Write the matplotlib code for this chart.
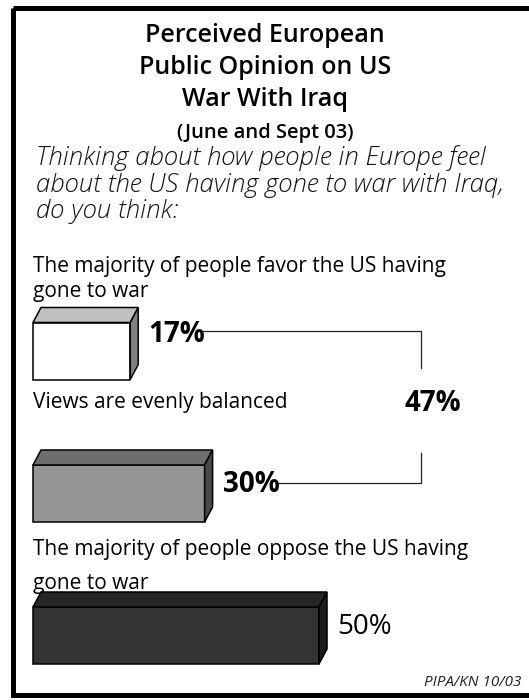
import matplotlib
matplotlib.use("Agg")
import matplotlib.pyplot as plt
from matplotlib.patches import Polygon, Rectangle

plt.rcParams['font.family'] = ['Open Sans', 'DejaVu Sans']

# data
title_lines = ["Perceived European", "Public Opinion on US", "War With Iraq"]
subtitle = "(June and Sept 03)"
question = ["Thinking about how people in Europe feel",
            "about the US having gone to war with Iraq,",
            "do you think:"]
labels = ["The majority of people favor the US having\ngone to war",
          "Views are evenly balanced",
          "The majority of people oppose the US having\ngone to war"]
values = [17, 30, 50]
front_colors = ["#ffffff", "#969696", "#333333"]
top_colors = ["#c0c0c0", "#6e6e6e", "#262626"]
side_colors = ["#808080", "#4a4a4a", "#1c1c1c"]
label_weights = ["bold", "bold", "normal"]
source = "PIPA/KN 10/03"

W, H = 529, 700
SCALE = 5.72      # px per percent
LEFT = 33         # px, where bars start
DX, DY = 8, 15    # 3d depth in px
BAR_H = 57
bar_y = [351, 493.5, 635.5]
label_dy = [-9, -1.5, -1.5]   # baseline of value text relative to bar centre

fig = plt.figure(figsize=(W / 100, H / 100), dpi=100)
bg = fig.add_axes([0, 0, 1, 1])
bg.set_xlim(0, W)
bg.set_ylim(H, 0)
bg.axis('off')

# frame (right side is cut off in the reference)
bg.add_patch(Rectangle((12.5, 7.5), 560, 687.5, fill=False, lw=3.6, ec='black',
                       clip_on=False))

for i, t in enumerate(title_lines):
    bg.text(265, 42 + 32 * i, t, ha='center', va='baseline', fontsize=18,
            fontweight='semibold')
bg.text(265, 138, subtitle, ha='center', va='baseline', fontsize=14.5,
        fontweight='semibold')
for i, t in enumerate(question):
    bg.text(36, 165 + 26.5 * i, t, ha='left', va='baseline', fontsize=18.5,
            style='italic', fontweight='light', color='#111111')

lines0 = labels[0].split("\n")
lines2 = labels[2].split("\n")
bg.text(33, 272, lines0[0], va='baseline', fontsize=15)
bg.text(33, 297, lines0[1], va='baseline', fontsize=15)
bg.text(33, 408, labels[1], va='baseline', fontsize=15)
bg.text(33, 555, lines2[0], va='baseline', fontsize=15)
bg.text(33, 589, lines2[1], va='baseline', fontsize=15)
bg.text(521, 686, source, ha='right', va='baseline', fontsize=11, style='italic',
        color='#222222')

# bars in percent units
ax = fig.add_axes([0, 0, 1, 1])
ax.set_xlim(-LEFT / SCALE, (W - LEFT) / SCALE)
ax.set_ylim(H, 0)
ax.axis('off')
ax.patch.set_alpha(0)

dx = DX / SCALE
for v, y, fc, tc, sc, wt, ly in zip(values, bar_y, front_colors, top_colors,
                                    side_colors, label_weights, label_dy):
    ax.barh(y, v, left=0, height=BAR_H, color=fc, edgecolor='black', lw=1.1, zorder=3)
    top = y - BAR_H / 2
    bot = y + BAR_H / 2
    ax.add_patch(Polygon([(0, top), (dx, top - DY), (v + dx, top - DY), (v, top)],
                         closed=True, fc=tc, ec='black', lw=1.1, zorder=3))
    ax.add_patch(Polygon([(v, top), (v + dx, top - DY), (v + dx, bot - DY), (v, bot)],
                         closed=True, fc=sc, ec='black', lw=1.1, zorder=3))
    ax.text(v + dx + 10 / SCALE, y + ly, f"{v}%", ha='left', va='baseline',
            fontsize=20, fontweight=wt, zorder=4)

# bracket joining the first two answers
total = values[0] + values[1]
bx = (421 - LEFT) / SCALE
y1 = 331
y2 = 483
tw = 55 / SCALE
x1 = values[0] + dx + 10 / SCALE + tw
x2 = values[1] + dx + 10 / SCALE + tw
ax.plot([x1, bx, bx], [y1, y1, 368], color='#222222', lw=0.9)
ax.plot([x2, bx, bx], [y2, y2, 453], color='#222222', lw=0.9)
ax.text(bx + 12 / SCALE, 411, f"{total}%", ha='center', va='baseline', fontsize=20,
        fontweight='bold')

fig.savefig("out.png", dpi=100)
